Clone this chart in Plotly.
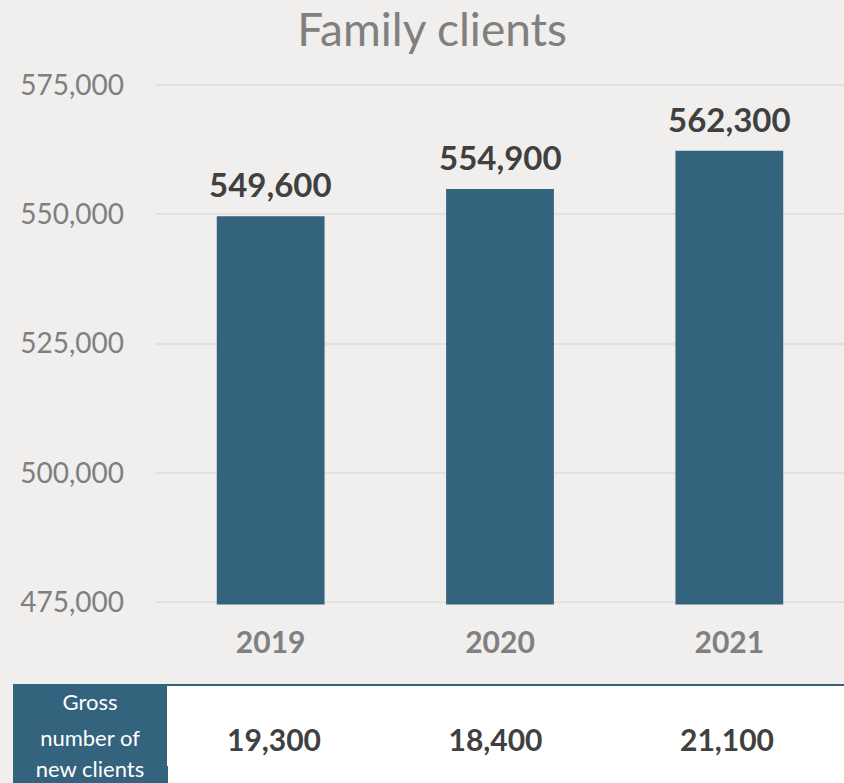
import plotly.graph_objects as go

years = ['2019', '2020', '2021']
family_clients = [549600, 554900, 562300]
new_clients = [19300, 18400, 21100]
row_label = ['Gross', 'number of', 'new clients']
y_ticks = [475000, 500000, 525000, 550000, 575000]

bar_color = '#34637E'
bg = '#F0EFED'
W, H = 844, 783

fig = go.Figure()

fig.add_trace(go.Bar(
    x=years,
    y=family_clients,
    width=0.47,
    marker=dict(color=bar_color, line=dict(width=0)),
    hoverinfo='skip',
    showlegend=False,
))

# value labels above the bars (x by category index)
for i, v in enumerate(family_clients):
    fig.add_annotation(x=i, y=v, text=f'<b>{v:,}</b>', showarrow=False,
                       yanchor='bottom', yshift=10,
                       font=dict(family='Lato', size=33, color='#404040'))

# row label column (one line per row so each line is centred)
fig.add_trace(go.Table(
    domain=dict(x=[13 / W, 167 / W], y=[0, 98 / H]),
    header=dict(
        values=[row_label[0]],
        fill=dict(color=bar_color),
        font=dict(family='Lato', size=22, color='white'),
        align='center', height=36,
        line=dict(width=1, color=bar_color),
    ),
    cells=dict(
        values=[row_label[1:]],
        fill=dict(color=bar_color),
        font=dict(family='Lato', size=22, color='white'),
        align='center', height=31,
        line=dict(width=1, color=bar_color),
    ),
))

# new clients per year
fig.add_trace(go.Table(
    domain=dict(x=[167 / W, 1], y=[0, 98 / H]),
    columnwidth=[214, 229, 234],
    header=dict(
        values=['', '', ''],
        fill=dict(color='white'),
        height=28,
        line=dict(width=1, color='white'),
    ),
    cells=dict(
        values=[[f'<b>{v:,}</b>'] for v in new_clients],
        fill=dict(color='white'),
        font=dict(family='Lato', size=30, color='#404040'),
        align='center', height=40,
        line=dict(width=1, color='white'),
    ),
))

fig.update_layout(
    width=W, height=H,
    paper_bgcolor=bg,
    plot_bgcolor=bg,
    margin=dict(l=0, r=0, t=0, b=0),
    title=dict(text='Family clients', x=0.512, xanchor='center', y=1 - 30 / H, yanchor='middle',
               font=dict(family='Lato', size=46, color='#808080')),
    shapes=[
        dict(type='rect', xref='paper', yref='paper', layer='below',
             x0=167 / W, x1=1, y0=0, y1=98 / H,
             fillcolor='white', line=dict(width=0)),
        dict(type='line', xref='paper', yref='paper',
             x0=13 / W, x1=1, y0=98 / H, y1=98 / H,
             line=dict(color=bar_color, width=2)),
    ],
)

fig.update_xaxes(
    type='category',
    domain=[156 / W, 1],
    range=[-0.5, 2.5],
    showgrid=False, showline=False, zeroline=False,
    tickfont=dict(family='Lato', size=30, color='#808080', weight='bold'),
    ticks='', ticklabelstandoff=17,
    automargin=False,
)
fig.update_yaxes(
    domain=[1 - 604.6 / H, 1 - 82.4 / H],
    range=[474500, 575500],
    tickvals=y_ticks,
    tickformat=',',
    showgrid=True, gridcolor='#E2E1DF', gridwidth=2,
    zeroline=False, showline=False,
    tickfont=dict(family='Lato', size=28, color='#7F7F7F'),
    ticks='', ticklabelstandoff=31,
    automargin=False,
)

fig.write_html('out.html', config={'displayModeBar': False},
               post_script="document.body.style.margin='0';")
